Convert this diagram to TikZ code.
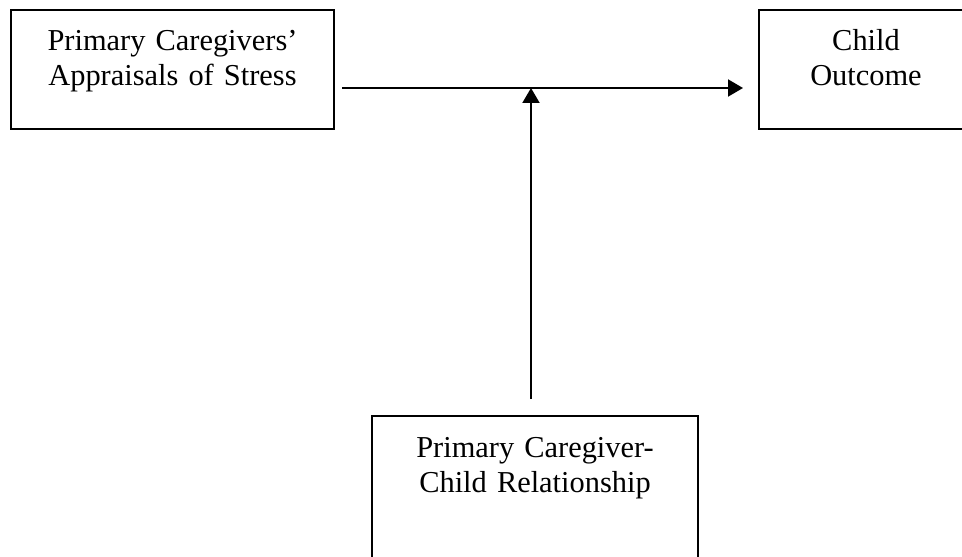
\documentclass[tikz,border=0pt]{standalone}
\usepackage{fontspec}
\setmainfont{Liberation Serif}
\usetikzlibrary{arrows.meta}

\begin{document}
\begin{tikzpicture}[x=0.5pt,y=-0.5pt,font=\fontsize{15.2}{17.5}\selectfont,line width=1pt,
  varbox/.style={draw,align=center,inner sep=0pt,anchor=north west,text height=20.5pt,text depth=39pt},
  effect/.style={-{Triangle[length=7.5pt,width=8.5pt]}}]

\useasboundingbox (0,0) rectangle (962,556);

\node[varbox,text width=161.5pt] (stress) at (10,9) {Primary Caregivers'\\Appraisals of Stress};
\node[varbox,text width=107pt] (outcome) at (758,9) {Child\\Outcome};
\node[varbox,text width=163pt,text depth=80pt] (relation) at (371,415) {Primary Caregiver-\\Child Relationship};

\coordinate (meet) at (531,88);

\draw[effect,shorten <=3.5pt,shorten >=7.5pt] (stress.east |- meet) -- (outcome.west |- meet);
\draw[effect,shorten <=8pt] (meet |- relation.north) -- (meet);

\end{tikzpicture}
\end{document}
